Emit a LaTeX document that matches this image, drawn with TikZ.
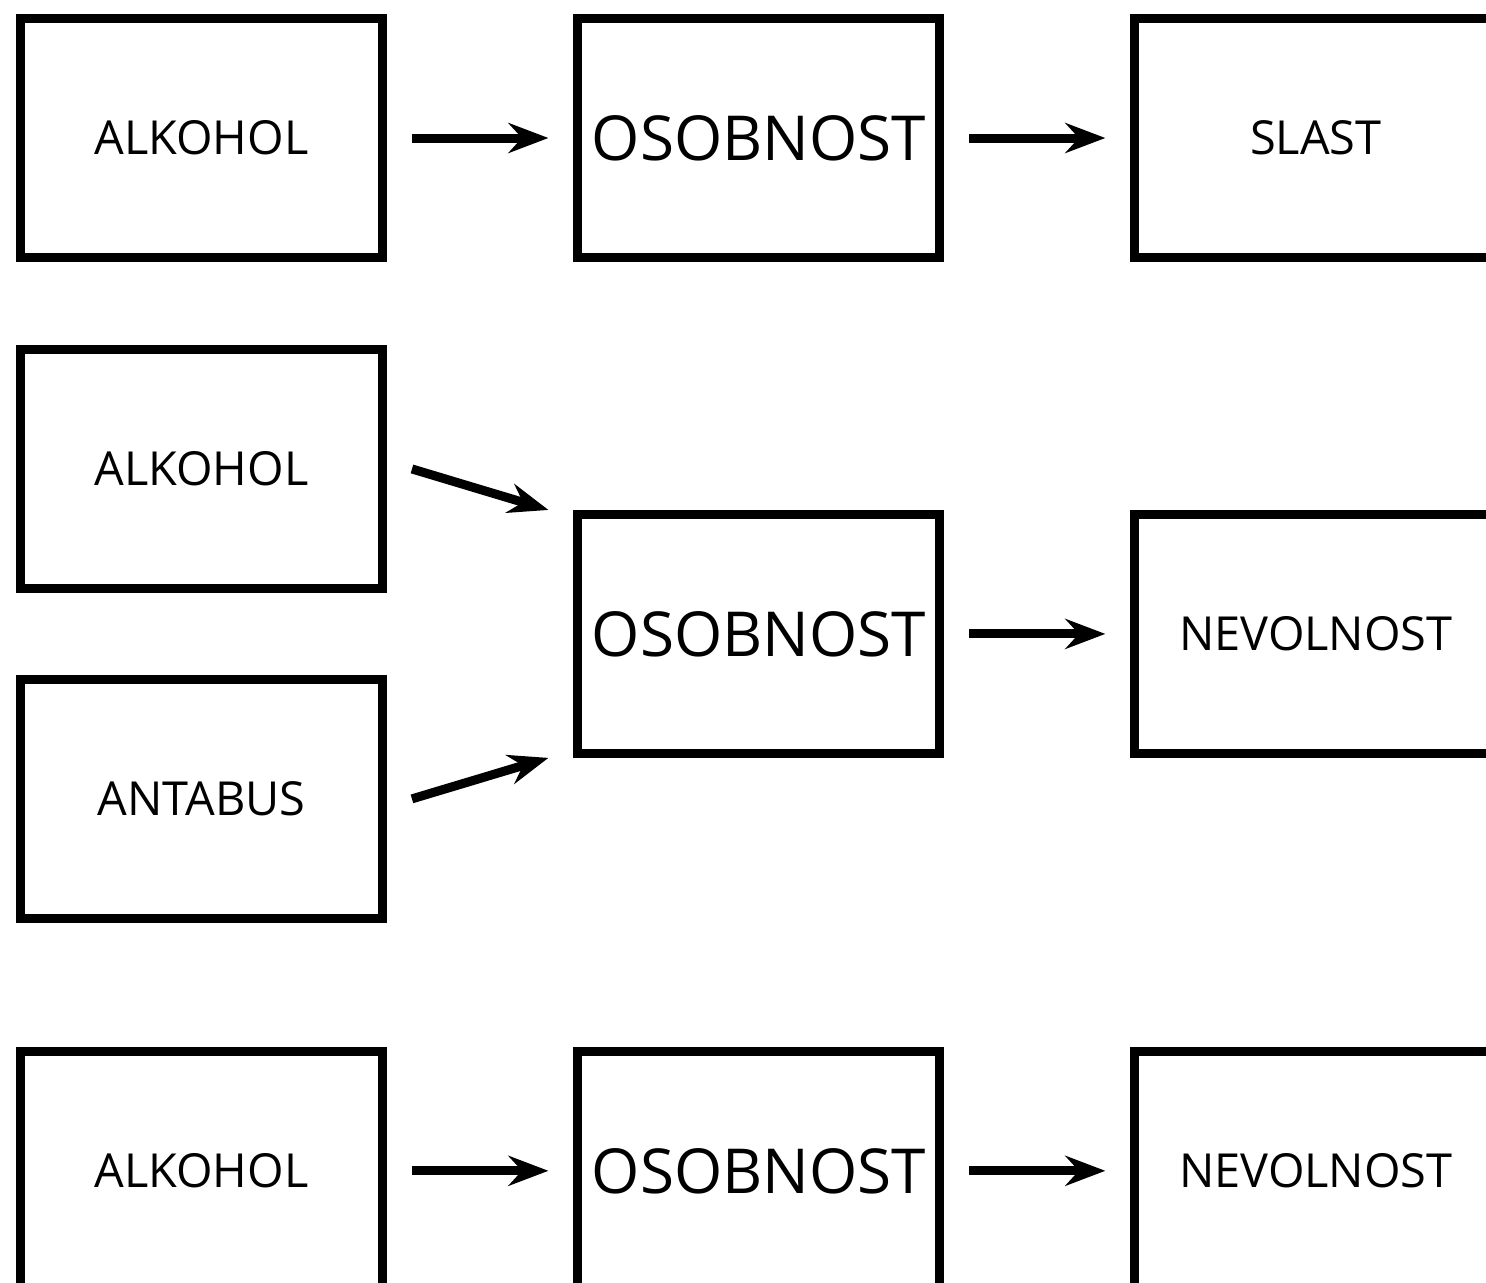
\documentclass[tikz,border=0pt]{standalone}
\usepackage{fontspec}
\setmainfont{Open Sans}
\usetikzlibrary{positioning,calc,arrows.meta}

\begin{document}
\begin{tikzpicture}[x=0.02cm, y=-0.02cm,
  box/.style={draw=black, line width=0.18cm, minimum width=7.24cm, minimum height=4.78cm, inner sep=0pt, font=\fontsize{26.7}{30}\selectfont},
  bigbox/.style={box, font=\fontsize{35.3}{40}\selectfont},
  tipline/.style={line width=0.18cm, -{Stealth[length=0.8cm, width=0.6cm, inset=0.27cm]}},
  arr/.style={tipline, shorten <=0.5cm, shorten >=0.5cm}]

\useasboundingbox (0,0) rectangle (1486,1282);
\clip (0,0) rectangle (1486,1282);

% Alkohol -> Osobnost -> Slast
\node[box] (alk1) at (201.5,138) {ALKOHOL};
\node[bigbox, right=3.73cm of alk1] (osob1) {OSOBNOST};
\node[box, right=3.72cm of osob1] (slast) {SLAST};

% Alkohol + Antabus -> Osobnost -> Nevolnost
\node[box, below=1.66cm of alk1] (alk2) {ALKOHOL};
\node[box, below=1.64cm of alk2] (antab) {ANTABUS};
\coordinate (mid) at ($(alk2.east)!0.5!(antab.east)$);
\node[bigbox, right=3.73cm of mid] (osob2) {OSOBNOST};
\node[box, right=3.72cm of osob2] (nevol2) {NEVOLNOST};

% Alkohol -> Osobnost -> Nevolnost
\node[box, below=2.48cm of antab] (alk3) {ALKOHOL};
\node[bigbox, right=3.73cm of alk3] (osob3) {OSOBNOST};
\node[box, right=3.72cm of osob3] (nevol3) {NEVOLNOST};

% arrows
\draw[arr] (alk1) -- (osob1);
\draw[arr] (osob1) -- (slast);
\draw[tipline] ($(alk2.east)+(25,0)$) -- ($(osob2.north west)+(-25,0)$);
\draw[tipline] ($(antab.east)+(25,0)$) -- ($(osob2.south west)+(-25,0)$);
\draw[arr] (osob2) -- (nevol2);
\draw[arr] (alk3) -- (osob3);
\draw[arr] (osob3) -- (nevol3);

\end{tikzpicture}
\end{document}
